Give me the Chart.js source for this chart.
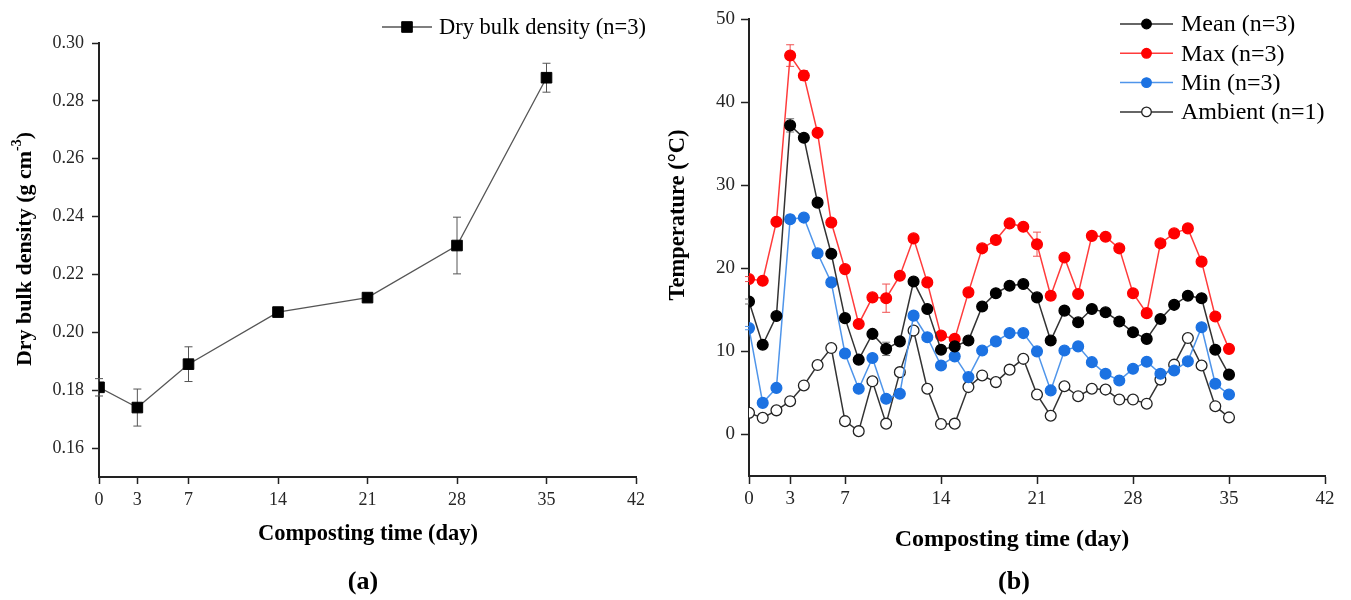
<!DOCTYPE html>
<html>
<head>
<meta charset="utf-8">
<script src="https://cdn.jsdelivr.net/npm/chart.js@4.4.1/dist/chart.umd.min.js"></script>
<style>
  body { margin: 0; background: #fff; width: 1351px; height: 600px; overflow: hidden; position: relative; }
  canvas { position: absolute; top: 0; }
  #c1 { left: 0; }
  #c2 { left: 650px; }
</style>
</head>
<body>
<canvas id="c1" width="650" height="600"></canvas>
<canvas id="c2" width="701" height="600"></canvas>
<script>
// ---- data ----
const dayTicks = [0, 3, 7, 14, 21, 28, 35, 42];

// (a) dry bulk density
const densityDays = [0, 3, 7, 14, 21, 28, 35];
const density = [0.181, 0.174, 0.189, 0.207, 0.212, 0.230, 0.288];
const densityErr = [0.003, 0.0064, 0.006, 0.001, 0.001, 0.0098, 0.005];
const densityTicks = [0.16, 0.18, 0.20, 0.22, 0.24, 0.26, 0.28, 0.30];

// (b) temperature
const tempDays = [0, 1, 2, 3, 4, 5, 6, 7, 8, 9, 10, 11, 12, 13, 14, 15, 16, 17,
  18, 19, 20, 21, 22, 23, 24, 25, 26, 27, 28, 29, 30, 31, 32, 33, 34, 35];
const meanT = [16.0, 10.8, 14.25, 37.2, 35.7, 27.9, 21.75, 14.0, 9.0, 12.1, 10.3, 11.2,
  18.4, 15.1, 10.2, 10.6, 11.3, 15.4, 17.0, 17.9, 18.1, 16.5, 11.3, 14.9,
  13.5, 15.1, 14.7, 13.6, 12.3, 11.5, 13.9, 15.6, 16.7, 16.4, 10.2, 7.2];
const meanErr = [0.3, 0.3, 0.3, 0.8, 0.4, 0.3, 0.3, 0.3, 0.3, 0.3, 0.8, 0.3,
  0.3, 0.3, 0.3, 0.3, 0.3, 0.3, 0.3, 0.3, 0.3, 0.3, 0.3, 0.3,
  0.3, 0.3, 0.3, 0.3, 0.3, 0.3, 0.3, 0.3, 0.3, 0.3, 0.3, 0.3];
const maxT = [18.7, 18.5, 25.6, 45.6, 43.2, 36.3, 25.5, 19.9, 13.3, 16.5, 16.4, 19.1,
  23.6, 18.3, 11.9, 11.5, 17.1, 22.4, 23.4, 25.4, 25.0, 22.9, 16.7, 21.3,
  16.9, 23.9, 23.8, 22.4, 17.0, 14.6, 23.0, 24.2, 24.8, 20.8, 14.2, 10.3];
const maxErr = [0.3, 0.3, 0.3, 1.3, 0.6, 0.3, 0.3, 0.3, 0.3, 0.3, 1.7, 0.3,
  0.3, 0.3, 0.3, 0.3, 0.3, 0.3, 0.3, 0.3, 0.3, 1.45, 0.5, 0.3,
  0.3, 0.3, 0.3, 0.3, 0.3, 0.3, 0.3, 0.3, 0.3, 0.3, 0.3, 0.3];
const minT = [12.8, 3.8, 5.6, 25.9, 26.1, 21.8, 18.3, 9.75, 5.5, 9.2, 4.3, 4.9,
  14.3, 11.7, 8.3, 9.4, 6.9, 10.1, 11.2, 12.2, 12.2, 10.0, 5.3, 10.1,
  10.6, 8.7, 7.3, 6.5, 7.9, 8.75, 7.3, 7.7, 8.8, 12.9, 6.1, 4.8];
const minErr = [0.2, 0.2, 0.2, 0.5, 0.3, 0.2, 0.2, 0.2, 0.2, 0.2, 0.2, 0.2,
  0.2, 0.2, 0.2, 0.2, 0.2, 0.2, 0.2, 0.2, 0.2, 0.2, 0.2, 0.2,
  0.2, 0.2, 0.2, 0.2, 0.2, 0.2, 0.2, 0.2, 0.2, 0.2, 0.2, 0.2];
const ambT = [2.6, 2.0, 2.9, 4.0, 5.9, 8.35, 10.4, 1.6, 0.4, 6.4, 1.3, 7.5,
  12.5, 5.5, 1.25, 1.3, 5.7, 7.1, 6.3, 7.8, 9.1, 4.8, 2.25, 5.8,
  4.6, 5.5, 5.4, 4.2, 4.2, 3.7, 6.6, 8.4, 11.6, 8.3, 3.4, 2.05];
const tempTicks = [0, 10, 20, 30, 40, 50];

const FONT = '"Liberation Serif", "Times New Roman", serif';
const toPts = (xs, ys) => xs.map((x, i) => ({ x: x, y: ys[i] }));

// ---- plugins ----
const errorBars = {
  id: 'errorBars',
  beforeDatasetsDraw(chart) {
    const ctx = chart.ctx, xs = chart.scales.x, ys = chart.scales.y;
    chart.data.datasets.forEach(ds => {
      if (!ds.errors) return;
      ctx.save();
      ctx.strokeStyle = ds.errorColor;
      ctx.lineWidth = 1;
      ds.data.forEach((p, i) => {
        const e = ds.errors[i];
        if (!e) return;
        const x = xs.getPixelForValue(p.x);
        const y1 = ys.getPixelForValue(p.y + e);
        const y2 = ys.getPixelForValue(p.y - e);
        ctx.beginPath();
        ctx.moveTo(x, y1); ctx.lineTo(x, y2);
        ctx.moveTo(x - 4, y1); ctx.lineTo(x + 4, y1);
        ctx.moveTo(x - 4, y2); ctx.lineTo(x + 4, y2);
        ctx.stroke();
      });
      ctx.restore();
    });
  }
};

const decor = {
  id: 'decor',
  afterDraw(chart, args, o) {
    const ctx = chart.ctx;
    ctx.save();
    ctx.fillStyle = '#000';
    ctx.textBaseline = 'middle';
    ctx.textAlign = 'center';
    ctx.font = 'bold ' + o.xTitleSize + 'px ' + FONT;
    ctx.fillText(o.xTitle, o.xTitleAt[0], o.xTitleAt[1]);
    ctx.font = 'bold 26px ' + FONT;
    ctx.fillText(o.panel, o.panelAt[0], o.panelAt[1]);

    // rotated y title, parts may be superscript
    ctx.save();
    ctx.translate(o.yTitleAt[0], o.yTitleAt[1]);
    ctx.rotate(-Math.PI / 2);
    ctx.textAlign = 'left';
    const fonts = o.yTitle.map(p => 'bold ' + (p.sup ? 14 : o.yTitleSize) + 'px ' + FONT);
    let total = 0;
    o.yTitle.forEach((p, i) => { ctx.font = fonts[i]; total += ctx.measureText(p.t).width; });
    let cx = -total / 2;
    o.yTitle.forEach((p, i) => {
      ctx.font = fonts[i];
      ctx.fillText(p.t, cx, p.sup ? -8 : 0);
      cx += ctx.measureText(p.t).width;
    });
    ctx.restore();

    // legend: line with marker, then label
    const lg = o.legend;
    chart.data.datasets.forEach((ds, i) => {
      const y = lg.y0 + i * lg.dy;
      ctx.strokeStyle = ds.borderColor;
      ctx.lineWidth = ds.borderWidth;
      ctx.beginPath(); ctx.moveTo(lg.x0, y); ctx.lineTo(lg.x1, y); ctx.stroke();
      ctx.fillStyle = ds.pointBackgroundColor;
      ctx.strokeStyle = ds.pointBorderColor;
      ctx.lineWidth = ds.pointBorderWidth;
      Chart.helpers.drawPoint(ctx, {
        pointStyle: ds.pointStyle, rotation: 0,
        radius: lg.r, borderWidth: ds.pointBorderWidth
      }, (lg.x0 + lg.x1) / 2, y);
      ctx.fillStyle = '#000';
      ctx.font = lg.size + 'px ' + FONT;
      ctx.textAlign = 'left';
      ctx.fillText(ds.label, lg.tx, y + 1);
    });
    ctx.restore();
  }
};

// ---- axes ----
function axis(min, max, tickVals, fmt, fit, size, fontSize, tickLen, pad) {
  return {
    type: 'linear', min: min, max: max,
    afterBuildTicks: s => { s.ticks = tickVals.map(v => ({ value: v })); },
    afterFit: s => { s[fit] = size; },
    border: { display: true, color: '#222', width: 2 },
    grid: { display: true, drawOnChartArea: false, drawTicks: true,
      tickLength: tickLen, tickWidth: 1.5, tickColor: '#222' },
    ticks: { color: '#262626', font: { family: FONT, size: fontSize },
      padding: pad, maxRotation: 0, autoSkip: false, callback: fmt }
  };
}

// ---- (a) ----
new Chart(document.getElementById('c1'), {
  type: 'line',
  data: {
    datasets: [{
      label: 'Dry bulk density (n=3)',
      data: toPts(densityDays, density),
      errors: densityErr,
      errorColor: '#555',
      borderColor: '#555',
      borderWidth: 1.3,
      pointStyle: 'rect',
      pointRadius: 7.5,
      pointBorderWidth: 1,
      pointBackgroundColor: '#000',
      pointBorderColor: '#000',
      tension: 0
    }]
  },
  options: {
    responsive: false,
    animation: false,
    layout: { padding: { left: 0, top: 43, right: 13, bottom: 0 } },
    scales: {
      x: axis(0, 42, dayTicks, v => v, 'height', 123, 18, 7, 5),
      y: axis(0.15, 0.30, densityTicks, v => v.toFixed(2), 'width', 99, 18, 7, 8)
    },
    plugins: {
      legend: { display: false },
      tooltip: { enabled: false },
      decor: {
        xTitle: 'Composting time (day)', xTitleAt: [368, 534], xTitleSize: 22.5,
        panel: '(a)', panelAt: [363, 582],
        yTitle: [{ t: 'Dry bulk density (g cm' }, { t: '-3', sup: true }, { t: ')' }],
        yTitleAt: [25, 249], yTitleSize: 22,
        legend: { x0: 382, x1: 432, tx: 439, y0: 27, dy: 30, size: 22.5, r: 7.5 }
      }
    }
  },
  plugins: [errorBars, decor]
});

// ---- (b) ----
function series(label, ys, errs, marker, line, errColor, fill) {
  return {
    label: label,
    data: toPts(tempDays, ys),
    errors: errs,
    errorColor: errColor,
    borderColor: line,
    borderWidth: 1.5,
    pointStyle: 'circle',
    pointRadius: 5.4,
    pointBorderWidth: 1.3,
    pointBackgroundColor: fill,
    pointBorderColor: marker,
    tension: 0
  };
}

new Chart(document.getElementById('c2'), {
  type: 'line',
  data: {
    datasets: [
      series('Mean (n=3)', meanT, meanErr, '#000', '#333', '#777', '#000'),
      series('Max (n=3)', maxT, maxErr, '#ff0000', '#ff3b3b', '#f05050', '#ff0000'),
      series('Min (n=3)', minT, minErr, '#1c72e2', '#4f95ea', '#4f95ea', '#1c72e2'),
      series('Ambient (n=1)', ambT, null, '#222', '#333', '#333', '#fff')
    ]
  },
  options: {
    responsive: false,
    animation: false,
    layout: { padding: { left: 0, top: 19, right: 26, bottom: 0 } },
    scales: {
      x: axis(0, 42, dayTicks, v => v, 'height', 124, 19, 8, 4),
      y: axis(-5, 50, tempTicks, v => v, 'width', 99, 19, 8, 6)
    },
    plugins: {
      legend: { display: false },
      tooltip: { enabled: false },
      decor: {
        xTitle: 'Composting time (day)', xTitleAt: [362, 540], xTitleSize: 24,
        panel: '(b)', panelAt: [364, 582],
        yTitle: [{ t: 'Temperature (°C)' }],
        yTitleAt: [28, 215], yTitleSize: 22.5,
        legend: { x0: 470, x1: 523, tx: 531, y0: 24, dy: 29.3, size: 24, r: 4.8 }
      }
    }
  },
  plugins: [errorBars, decor]
});
</script>
</body>
</html>
